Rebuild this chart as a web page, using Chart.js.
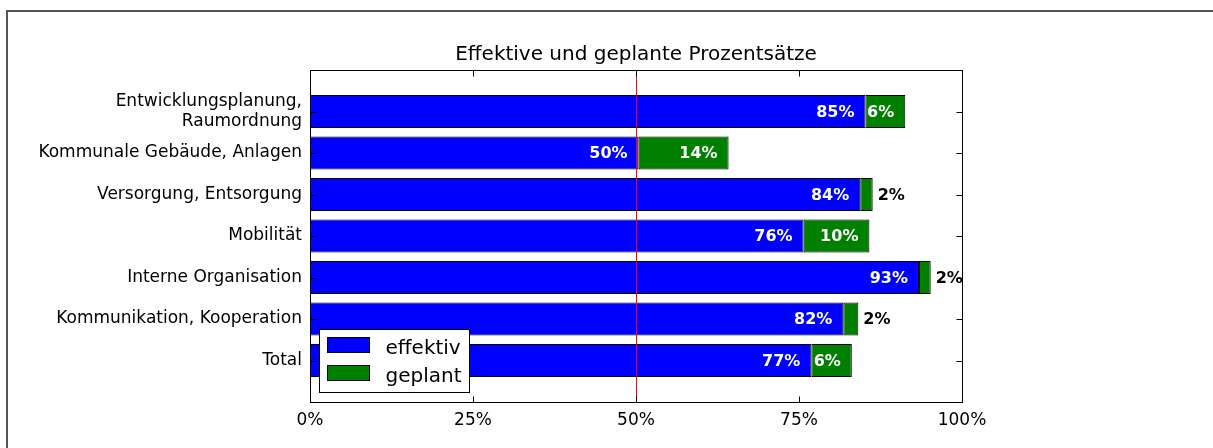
<!DOCTYPE html>
<html>
<head>
<meta charset="utf-8">
<script src="https://cdn.jsdelivr.net/npm/chart.js@4.4.1/dist/chart.umd.min.js"></script>
<style>
    html, body { margin: 0; padding: 0; background: #ffffff; overflow: hidden; }
    #wrap { position: relative; width: 1213px; height: 448px; overflow: hidden; }
    #frame {
        position: absolute; left: 6px; top: 10px; width: 1207px; height: 438px;
        border-top: 2px solid #555555; border-left: 2px solid #555555;
        box-sizing: border-box;
    }
    #chart { position: absolute; left: 0; top: 0; }
</style>
</head>
<body>
<div id="wrap">
    <div id="frame"></div>
    <canvas id="chart" width="1213" height="448"></canvas>
</div>

<script>
// DATA
const categories = [
    ["Entwicklungsplanung,", "Raumordnung"],
    "Kommunale Gebäude, Anlagen",
    "Versorgung, Entsorgung",
    "Mobilität",
    "Interne Organisation",
    "Kommunikation, Kooperation",
    "Total"
];
const effektiv = [85.2, 50.4, 84.4, 75.7, 93.4, 81.8, 76.9];
const geplant = [6.1, 13.8, 1.9, 10.1, 1.8, 2.3, 6.2];
const xTicks = [0, 25, 50, 75, 100];
const targetLine = 50;

const chartTitle = "Effektive und geplante Prozentsätze";
const FONT = "'DejaVu Sans', sans-serif";

function toPoints(values) {
    return values.map((v, i) => ({ x: v, y: i }));
}

// extra drawing: title, frame box, inner ticks, red line, value labels, legend
const decorations = {
    id: "decorations",
    afterDatasetsDraw(chart) {
        const ctx = chart.ctx;
        const area = chart.chartArea;
        const xs = chart.scales.x;
        const ys = chart.scales.y;
        const L = Math.round(area.left) + 0.5;
        const R = Math.round(area.right) + 0.5;
        const T = Math.round(area.top) + 0.5;
        const B = Math.round(area.bottom) + 0.5;

        ctx.save();

        // 50% line
        const xm = Math.round(xs.getPixelForValue(targetLine)) + 0.5;
        ctx.strokeStyle = "#ff0000";
        ctx.lineWidth = 1;
        ctx.beginPath();
        ctx.moveTo(xm, T);
        ctx.lineTo(xm, B);
        ctx.stroke();

        // value labels
        ctx.font = "bold 16px " + FONT;
        ctx.textBaseline = "middle";
        const blueMeta = chart.getDatasetMeta(0);
        const greenMeta = chart.getDatasetMeta(1);
        blueMeta.data.forEach((bar, i) => {
            ctx.fillStyle = "#ffffff";
            ctx.textAlign = "right";
            ctx.fillText(Math.round(effektiv[i]) + "%", bar.x - 11, bar.y + 1);
        });
        greenMeta.data.forEach((bar, i) => {
            const txt = Math.round(geplant[i]) + "%";
            if (geplant[i] >= 5) {
                ctx.fillStyle = "#ffffff";
                ctx.textAlign = "right";
                ctx.fillText(txt, bar.x - 11, bar.y + 1);
            } else {
                ctx.fillStyle = "#000000";
                ctx.textAlign = "left";
                ctx.fillText(txt, bar.x + 5, bar.y + 1);
            }
        });

        // axes box
        ctx.strokeStyle = "#000000";
        ctx.lineWidth = 1;
        ctx.strokeRect(L, T, R - L, B - T);

        // inward ticks
        const tl = 6;
        ctx.beginPath();
        categories.forEach((c, i) => {
            const y = Math.round(ys.getPixelForValue(i)) + 0.5;
            ctx.moveTo(L, y); ctx.lineTo(L + tl, y);
            ctx.moveTo(R, y); ctx.lineTo(R - tl, y);
        });
        xTicks.forEach((t) => {
            const x = Math.round(xs.getPixelForValue(t)) + 0.5;
            ctx.moveTo(x, B); ctx.lineTo(x, B - tl);
            ctx.moveTo(x, T); ctx.lineTo(x, T + tl);
        });
        ctx.stroke();

        // legend, lower left inside the axes
        const lw = 150, lh = 63;
        const lx = Math.round(area.left) + 9.5;
        const ly = Math.round(area.bottom) - 9.5 - lh;
        ctx.fillStyle = "#ffffff";
        ctx.fillRect(lx, ly, lw, lh);
        ctx.strokeStyle = "#000000";
        ctx.strokeRect(lx, ly, lw, lh);
        ctx.font = "20px " + FONT;
        ctx.textAlign = "left";
        ctx.textBaseline = "alphabetic";
        chart.data.datasets.forEach((ds, k) => {
            const sy = ly + 8 + k * 28;
            ctx.fillStyle = ds.backgroundColor;
            ctx.fillRect(lx + 8, sy, 42, 15);
            ctx.strokeStyle = "#000000";
            ctx.strokeRect(lx + 8, sy, 42, 15);
            ctx.fillStyle = "#000000";
            ctx.fillText(ds.label, lx + 66, sy + 16);
        });

        // title
        ctx.font = "20px " + FONT;
        ctx.textAlign = "center";
        ctx.fillStyle = "#000000";
        ctx.fillText(chartTitle, (area.left + area.right) / 2, 60);

        ctx.restore();
    }
};

const ctx = document.getElementById("chart").getContext("2d");

const chart = new Chart(ctx, {
    type: "bar",

    data: {
        datasets: [
            {
                label: "effektiv",
                data: toPoints(effektiv),
                backgroundColor: "#0000ff",
                borderColor: "#000000",
                borderWidth: 1,
                borderSkipped: false,
                categoryPercentage: 1.0,
                barPercentage: 0.8
            },
            {
                label: "geplant",
                data: toPoints(geplant),
                backgroundColor: "#008000",
                borderColor: "#000000",
                borderWidth: 1,
                borderSkipped: false,
                categoryPercentage: 1.0,
                barPercentage: 0.8
            }
        ]
    },

    options: {
        indexAxis: "y",
        responsive: false,
        animation: false,
        devicePixelRatio: 1,
        layout: {
            padding: { left: 0, right: 251, top: 70, bottom: 0 }
        },
        plugins: {
            legend: { display: false },
            title: { display: false },
            tooltip: { enabled: false }
        },
        scales: {
            x: {
                type: "linear",
                stacked: true,
                min: 0,
                max: 100,
                grid: { display: false },
                border: { display: false },
                afterFit(scale) { scale.height = 46; },
                afterBuildTicks(scale) {
                    scale.ticks = xTicks.map(v => ({ value: v }));
                },
                ticks: {
                    padding: 0,
                    color: "#000000",
                    font: { family: FONT, size: 17 },
                    callback: (v) => v + "%"
                }
            },
            y: {
                type: "linear",
                stacked: true,
                reverse: true,
                offset: false,
                min: -1,
                max: 7,
                grid: { display: false, offset: false },
                border: { display: false },
                afterFit(scale) { scale.width = 310; },
                afterBuildTicks(scale) {
                    scale.ticks = categories.map((c, i) => ({ value: i }));
                },
                ticks: {
                    padding: 0,
                    autoSkip: false,
                    color: "#000000",
                    font: { family: FONT, size: 17 },
                    callback: (v) => categories[v] !== undefined ? categories[v] : ""
                }
            }
        }
    },

    plugins: [decorations]
});
</script>
</body>
</html>
